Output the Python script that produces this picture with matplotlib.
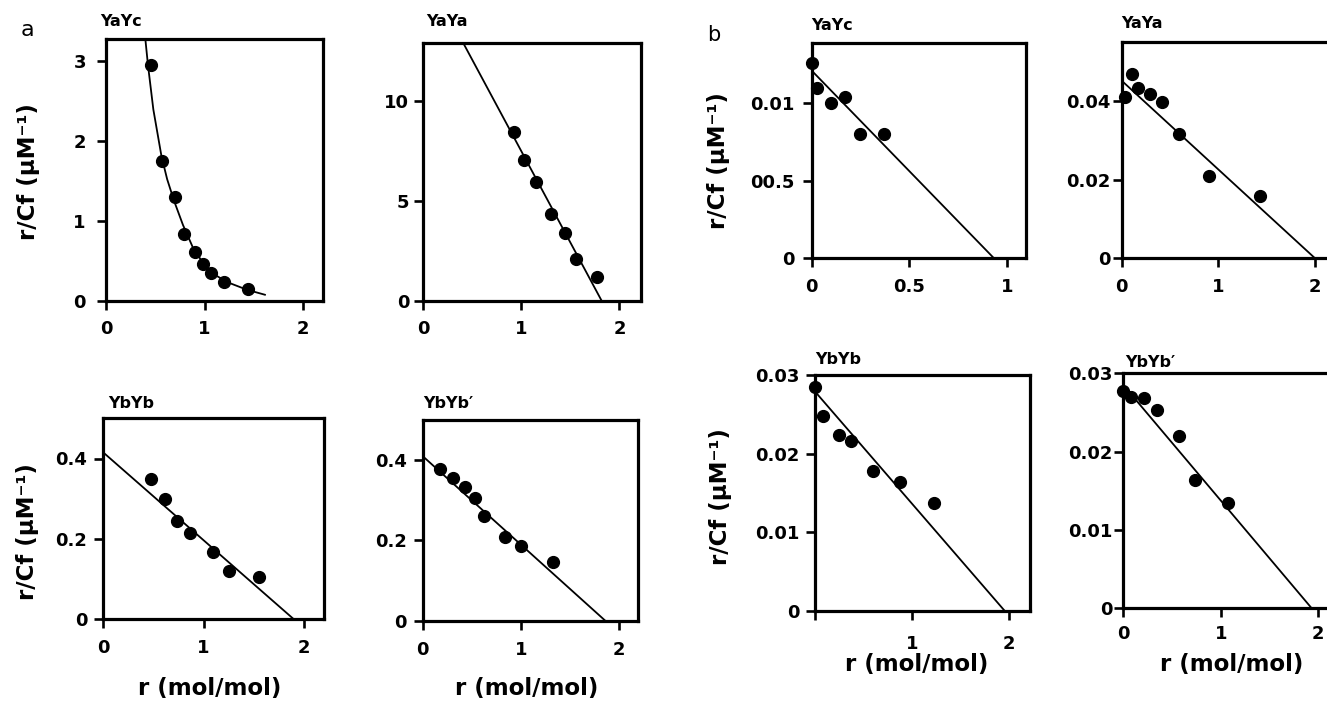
import matplotlib
matplotlib.use("Agg")
import matplotlib.pyplot as plt

plt.rcParams['font.family'] = ['DejaVu Sans']

W, H = 1327, 701

# ---------------- data ----------------
# panel a
a_yayc_x = [0.456, 0.568, 0.697, 0.793, 0.90, 0.983, 1.068, 1.197, 1.435]
a_yayc_y = [2.95, 1.745, 1.30, 0.835, 0.61, 0.46, 0.347, 0.242, 0.146]
a_yayc_curve_x = [0.398, 0.425, 0.48, 0.562, 0.62, 0.69, 0.78, 0.88, 0.98, 1.10, 1.23, 1.43, 1.62]
a_yayc_curve_y = [3.28, 2.95, 2.39, 1.81, 1.52, 1.25, 0.95, 0.67, 0.48, 0.33, 0.235, 0.14, 0.075]

a_yaya_x = [0.922, 1.03, 1.15, 1.306, 1.446, 1.554, 1.769]
a_yaya_y = [8.43, 7.03, 5.92, 4.33, 3.38, 2.10, 1.18]
a_yaya_fit_x = [0.0, 1.82]
a_yaya_fit_y = [16.6, 0.0]

a_ybyb_x = [0.473, 0.617, 0.733, 0.867, 1.093, 1.253, 1.557]
a_ybyb_y = [0.348, 0.300, 0.244, 0.215, 0.1675, 0.120, 0.106]
a_ybyb_fit_x = [0.0, 1.90]
a_ybyb_fit_y = [0.415, 0.0]

a_ybybp_x = [0.178, 0.308, 0.435, 0.538, 0.623, 0.836, 1.007, 1.325]
a_ybybp_y = [0.378, 0.355, 0.332, 0.306, 0.262, 0.208, 0.185, 0.145]
a_ybybp_fit_x = [0.0, 1.863]
a_ybybp_fit_y = [0.41, 0.0]

# panel b
b_yayc_x = [0.0, 0.026, 0.099, 0.171, 0.247, 0.37]
b_yayc_y = [0.01258, 0.01097, 0.0100, 0.01043, 0.00802, 0.00802]
b_yayc_fit_x = [0.0, 0.935]
b_yayc_fit_y = [0.0121, 0.0]

b_yaya_x = [0.034, 0.11, 0.172, 0.293, 0.42, 0.597, 0.907, 1.431]
b_yaya_y = [0.0409, 0.0469, 0.0432, 0.0417, 0.0396, 0.0316, 0.0208, 0.0158]
b_yaya_fit_x = [0.0, 2.0]
b_yaya_fit_y = [0.0451, 0.0]

b_ybyb_x = [0.0, 0.079, 0.248, 0.372, 0.597, 0.879, 1.224]
b_ybyb_y = [0.0285, 0.0248, 0.02235, 0.02155, 0.01783, 0.01639, 0.01373]
b_ybyb_fit_x = [0.0, 1.96]
b_ybyb_fit_y = [0.0279, 0.0]

b_ybybp_x = [0.0, 0.075, 0.212, 0.349, 0.571, 0.735, 1.077]
b_ybybp_y = [0.02774, 0.02694, 0.0268, 0.02532, 0.0220, 0.0163, 0.0134]
b_ybybp_fit_x = [0.0, 1.93]
b_ybybp_fit_y = [0.0285, 0.0]

titles = ["YaYc", "YaYa", "YbYb", "YbYb\u2032", "YaYc", "YaYa", "YbYb", "YbYb\u2032"]

a_xticks = [0, 1, 2]
a_xticklabels = ["0", "1", "2"]
a_yayc_yticks = [0, 1, 2, 3]
a_yaya_yticks = [0, 5, 10]
a_yb_yticks = [0, 0.2, 0.4]
a_yb_yticklabels = ["0", "0.2", "0.4"]
b_yayc_xticks = [0, 0.5, 1]
b_yayc_xticklabels = ["0", "0.5", "1"]
b_yayc_yticks = [0, 0.005, 0.01]
b_yayc_yticklabels = ["0", "00.5", "0.01"]
b_yaya_yticks = [0, 0.02, 0.04]
b_yaya_yticklabels = ["0", "0.02", "0.04"]
b_yb_yticks = [0, 0.01, 0.02, 0.03]
b_yb_yticklabels = ["0", "0.01", "0.02", "0.03"]
b_ybyb_xticklabels = ["", "1", "2"]

ylabel_text = "r/Cf (\u03bcM\u207b\u00b9)"
xlabel_text = "r (mol/mol)"

# ---------------- layout ----------------
# (left, right, top, bottom) in pixels
boxes = [
    (106, 323, 39, 301),
    (423.3, 641, 42.7, 301),
    (103.3, 324, 418.3, 619.3),
    (422.7, 638.3, 420, 620.7),
    (811.7, 1026.2, 42.7, 258.3),
    (1121.7, 1334.4, 41.7, 258.3),
    (815, 1030, 375, 611),
    (1123.3, 1337.8, 373.3, 608),
]

panels = [
    dict(x=a_yayc_x, y=a_yayc_y, lx=a_yayc_curve_x, ly=a_yayc_curve_y,
         xlim=(0, 2.2), ylim=(0, 3.27), xt=a_xticks, xtl=a_xticklabels,
         yt=a_yayc_yticks, ytl=["0", "1", "2", "3"], ypad=8.0, xpad=7.0),
    dict(x=a_yaya_x, y=a_yaya_y, lx=a_yaya_fit_x, ly=a_yaya_fit_y,
         xlim=(0, 2.22), ylim=(0, 12.9), xt=a_xticks, xtl=a_xticklabels,
         yt=a_yaya_yticks, ytl=["0", "5", "10"], ypad=3.5, xpad=7.0),
    dict(x=a_ybyb_x, y=a_ybyb_y, lx=a_ybyb_fit_x, ly=a_ybyb_fit_y,
         xlim=(0, 2.2), ylim=(0, 0.5), xt=a_xticks, xtl=a_xticklabels,
         yt=a_yb_yticks, ytl=a_yb_yticklabels, ypad=5.0, xpad=8.0),
    dict(x=a_ybybp_x, y=a_ybybp_y, lx=a_ybybp_fit_x, ly=a_ybybp_fit_y,
         xlim=(0, 2.2), ylim=(0, 0.5), xt=a_xticks, xtl=a_xticklabels,
         yt=a_yb_yticks, ytl=a_yb_yticklabels, ypad=4.8, xpad=8.0),
    dict(x=b_yayc_x, y=b_yayc_y, lx=b_yayc_fit_x, ly=b_yayc_fit_y,
         xlim=(0, 1.1), ylim=(0, 0.0139), xt=b_yayc_xticks, xtl=b_yayc_xticklabels,
         yt=b_yayc_yticks, ytl=b_yayc_yticklabels, ypad=6.0, xpad=8.0),
    dict(x=b_yaya_x, y=b_yaya_y, lx=b_yaya_fit_x, ly=b_yaya_fit_y,
         xlim=(0, 2.2), ylim=(0, 0.055), xt=a_xticks, xtl=a_xticklabels,
         yt=b_yaya_yticks, ytl=b_yaya_yticklabels, ypad=1.5, xpad=8.0),
    dict(x=b_ybyb_x, y=b_ybyb_y, lx=b_ybyb_fit_x, ly=b_ybyb_fit_y,
         xlim=(0, 2.22), ylim=(0, 0.03), xt=a_xticks, xtl=b_ybyb_xticklabels,
         yt=b_yb_yticks, ytl=b_yb_yticklabels, ypad=4.3, xpad=10.5),
    dict(x=b_ybybp_x, y=b_ybybp_y, lx=b_ybybp_fit_x, ly=b_ybybp_fit_y,
         xlim=(0, 2.2), ylim=(0, 0.03), xt=a_xticks, xtl=a_xticklabels,
         yt=b_yb_yticks, ytl=b_yb_yticklabels, ypad=1.5, xpad=6.0),
]

title_pos = [(100, 21), (426.7, 21.5), (108, 404), (423, 404),
             (811.7, 25), (1121.7, 23.5), (815, 360), (1125, 362)]

fig = plt.figure(figsize=(W / 100, H / 100), dpi=100)
fig.patch.set_facecolor("white")

def fx(px):
    return px / W

def fy(py):
    return 1 - py / H

for (l, r, t, b), p, title, (tx, ty) in zip(boxes, panels, titles, title_pos):
    ax = fig.add_axes([fx(l), fy(b), (r - l) / W, (b - t) / H])
    ax.plot(p["lx"], p["ly"], color="black", lw=1.3, solid_capstyle="butt", zorder=2)
    ax.plot(p["x"], p["y"], linestyle="none", marker="o", ms=8.5, color="black",
            clip_on=False, zorder=5)
    ax.set_xlim(*p["xlim"])
    ax.set_ylim(*p["ylim"])
    ax.set_xticks(p["xt"])
    ax.set_xticklabels(p["xtl"])
    ax.set_yticks(p["yt"])
    ax.set_yticklabels(p["ytl"])
    for s in ax.spines.values():
        s.set_linewidth(2.3)
        s.set_color("black")
    ax.tick_params(axis="both", direction="out", length=6.5, width=1.9,
                   labelsize=13)
    ax.tick_params(axis="x", pad=p["xpad"])
    ax.tick_params(axis="y", pad=p["ypad"])
    for lab in ax.get_xticklabels() + ax.get_yticklabels():
        lab.set_fontweight("bold")
    fig.text(fx(tx), fy(ty), title, fontsize=11.5, fontweight="bold",
             ha="left", va="center")

# axis labels
for (cx, cy) in [(29, 172), (28, 532), (718, 161), (720, 497)]:
    fig.text(fx(cx), fy(cy), ylabel_text, rotation=90, fontsize=16.5,
             fontweight="bold", ha="center", va="center")
for (cx, cy) in [(210, 688), (527, 688), (917, 665), (1232, 665)]:
    fig.text(fx(cx), fy(cy), xlabel_text, fontsize=16.5,
             fontweight="bold", ha="center", va="center")

# panel letters
fig.text(fx(27), fy(30), "a", fontsize=16, ha="center", va="center")
fig.text(fx(714), fy(35), "b", fontsize=15, ha="center", va="center")

fig.savefig("out.png", dpi=100, facecolor="white")
